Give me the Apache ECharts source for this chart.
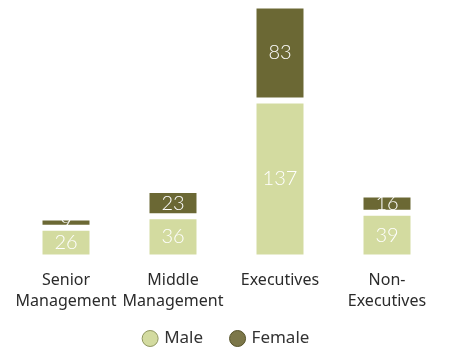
<!DOCTYPE html>
<html>
<head>
<meta charset="utf-8">
<script src="https://cdn.jsdelivr.net/npm/echarts@6/dist/echarts.min.js"></script>
<style>
  html, body { margin: 0; padding: 0; background: #ffffff; }
  #chart { width: 451px; height: 352px; }
</style>
</head>
<body>
<div id="chart"></div>
<script>
// Headcount by level and gender
const categories = ['Senior\nManagement', 'Middle\nManagement', 'Executives', 'Non-\nExecutives'];
const maleValues = [26, 36, 137, 39];
const femaleValues = [9, 23, 83, 16];

const MALE_COLOR = '#d3dba0';
const FEMALE_COLOR = '#6b6834';
const NUM_FONT = 'Lato, "Noto Sans", sans-serif';
const TEXT_FONT = '"Noto Sans", Lato, sans-serif';

const chart = echarts.init(document.getElementById('chart'), null, { renderer: 'canvas' });

const segmentLabel = {
  show: true,
  position: 'inside',
  color: '#ffffff',
  fontFamily: NUM_FONT,
  fontWeight: 300,
  fontSize: 20
};

chart.setOption({
  animation: false,
  grid: { left: 12.5, right: 10.5, top: 5.5, bottom: 94.5, containLabel: false },
  legend: {
    bottom: 0,
    left: 'center',
    icon: 'circle',
    itemWidth: 16,
    itemHeight: 16,
    itemGap: 26,
    textStyle: { fontFamily: TEXT_FONT, fontSize: 17, color: '#333333', padding: [0, 0, 0, 1] },
    data: [
      { name: 'Male', itemStyle: { color: MALE_COLOR, borderColor: '#8f9660', borderWidth: 1 } },
      { name: 'Female', itemStyle: { color: '#7c7749', borderColor: '#55522a', borderWidth: 1 } }
    ]
  },
  xAxis: {
    type: 'category',
    data: categories,
    axisLine: { show: false },
    axisTick: { show: false },
    axisLabel: {
      margin: 12,
      color: '#2b2b2b',
      fontFamily: TEXT_FONT,
      fontSize: 16,
      lineHeight: 21,
      interval: 0
    }
  },
  yAxis: {
    type: 'value',
    min: 0,
    max: 220,
    show: false,
    splitLine: { show: false }
  },
  series: [
    {
      name: 'Male',
      type: 'bar',
      stack: 'total',
      barWidth: 53,
      data: maleValues,
      itemStyle: { color: MALE_COLOR, borderColor: '#ffffff', borderWidth: 3 },
      label: segmentLabel
    },
    {
      name: 'Female',
      type: 'bar',
      stack: 'total',
      barWidth: 53,
      data: femaleValues,
      itemStyle: { color: FEMALE_COLOR, borderColor: '#ffffff', borderWidth: 3 },
      label: segmentLabel
    }
  ]
});
</script>
</body>
</html>
